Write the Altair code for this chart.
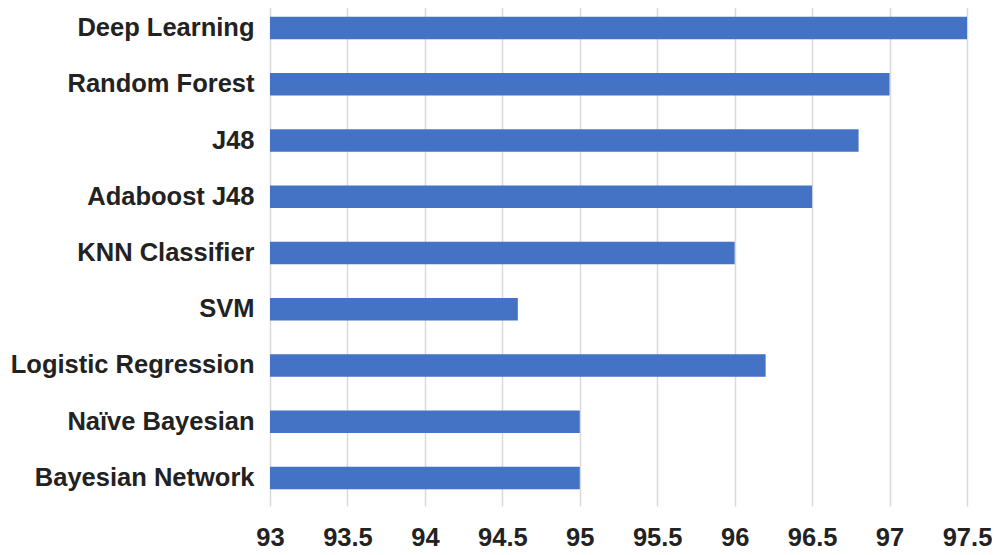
import altair as alt
import pandas as pd

models = ["Deep Learning", "Random Forest", "J48", "Adaboost J48", "KNN Classifier",
          "SVM", "Logistic Regression", "Naïve Bayesian", "Bayesian Network"]
accuracy = [97.5, 97.0, 96.8, 96.5, 96.0, 94.6, 96.2, 95.0, 95.0]
x_ticks = [93, 93.5, 94, 94.5, 95, 95.5, 96, 96.5, 97, 97.5]

df = pd.DataFrame({"model": models, "accuracy": accuracy})

FONT = "Liberation Sans, Arial, Helvetica, sans-serif"

chart = alt.Chart(df).mark_bar(color="#4472C4").encode(
    x=alt.X("accuracy:Q",
            scale=alt.Scale(domain=[93, 97.5], zero=False, clamp=True, nice=False),
            axis=alt.Axis(values=x_ticks, title=None, domain=False, ticks=False,
                          grid=True, gridColor="#d9d9d9", gridWidth=1.5,
                          format="~g",
                          labelFont=FONT, labelFontWeight="bold",
                          labelFontSize=25.5, labelColor="#222222", labelPadding=19,
                          labelFlush=False, labelOverlap=False)),
    y=alt.Y("model:N", sort=models,
            scale=alt.Scale(paddingInner=0.6, paddingOuter=0.3),
            axis=alt.Axis(title=None, domain=False, ticks=False, grid=False,
                          labelFont=FONT, labelFontWeight="bold",
                          labelFontSize=25.5, labelColor="#222222", labelPadding=16,
                          labelLimit=400)),
).properties(
    width=697, height=506,
    padding={"left": 262, "top": -8, "right": 25, "bottom": 47},
    autosize=alt.AutoSizeParams(type="none"),
).configure_view(stroke=None)

chart.save("out.html", embed_options={"renderer": "svg", "actions": False})
